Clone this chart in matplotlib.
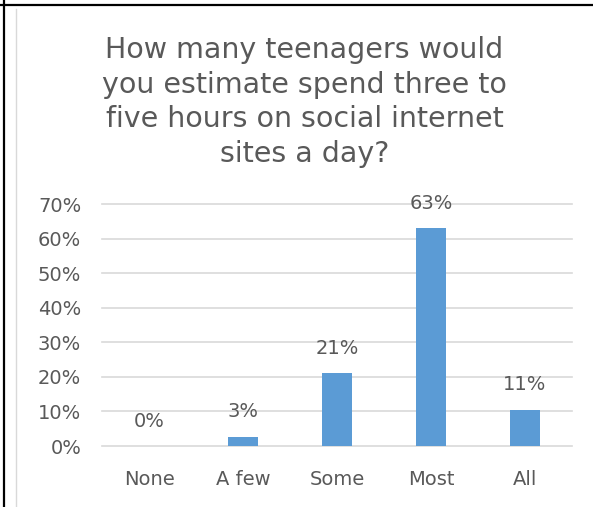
import matplotlib
matplotlib.use("Agg")
import matplotlib.pyplot as plt
from matplotlib.lines import Line2D
from matplotlib.ticker import FuncFormatter

categories = ["None", "A few", "Some", "Most", "All"]
values = [0.0, 0.027, 0.21, 0.63, 0.105]
value_labels = ["0%", "3%", "21%", "63%", "11%"]
yticks = [0, 0.1, 0.2, 0.3, 0.4, 0.5, 0.6, 0.7]

title = "How many teenagers would\nyou estimate spend three to\nfive hours on social internet\nsites a day?"

plt.rcParams['font.family'] = ['DejaVu Sans']
text_color = "#595959"

W, H = 593, 507
fig = plt.figure(figsize=(W / 100, H / 100), dpi=100)
fig.patch.set_facecolor("white")

left, right, top, bottom = 102, 572, 204, 446
ax = fig.add_axes([left / W, 1 - bottom / H, (right - left) / W, (bottom - top) / H])

x = range(len(categories))
ax.bar(x, values, width=0.31, color="#5B9BD5", zorder=3)
ax.set_xlim(-0.5, len(categories) - 0.5)
ax.set_ylim(0, 0.7)
ax.set_yticks(yticks)
ax.yaxis.set_major_formatter(FuncFormatter(lambda v, p: f"{v*100:.0f}%"))
ax.set_xticks(list(x))
ax.set_xticklabels(categories)
ax.grid(axis="y", color="#D9D9D9", linewidth=1.2, zorder=0)
for gl in ax.get_ygridlines():
    gl.set_clip_on(False)
for s in ax.spines.values():
    s.set_visible(False)
ax.tick_params(axis="both", length=0, labelsize=14, labelcolor=text_color)
ax.tick_params(axis="y", pad=15)
ax.tick_params(axis="x", pad=17)

for xi, v, lab in zip(x, values, value_labels):
    ax.annotate(lab, (xi, v), xytext=(0, 11), textcoords="offset points",
                ha="center", va="bottom", fontsize=14, color=text_color)

fig.text(0.5 * (16 + W) / W, 1 - 36 / H, title, ha="center", va="top",
         fontsize=20.5, color=text_color, linespacing=1.3)

fig.add_artist(Line2D([0, 1], [1 - 5 / H, 1 - 5 / H], transform=fig.transFigure,
                      color="black", linewidth=1.6))
fig.add_artist(Line2D([4 / W, 4 / W], [0, 1], transform=fig.transFigure,
                      color="black", linewidth=1.6))
fig.add_artist(Line2D([16 / W, 16 / W], [0, 1 - 9 / H], transform=fig.transFigure,
                      color="#D9D9D9", linewidth=1.0))

fig.savefig("out.png", dpi=100)
